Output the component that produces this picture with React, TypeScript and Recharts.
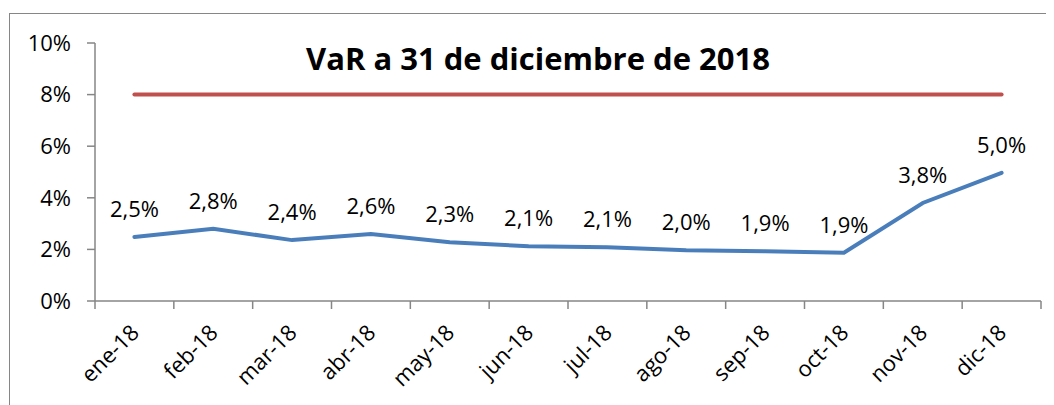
import React from 'react';
import { LineChart, Line, XAxis, YAxis, LabelList } from 'recharts';

const months = [
  'ene-18', 'feb-18', 'mar-18', 'abr-18', 'may-18', 'jun-18',
  'jul-18', 'ago-18', 'sep-18', 'oct-18', 'nov-18', 'dic-18',
];
const varValues = [2.48, 2.8, 2.36, 2.6, 2.28, 2.12, 2.08, 1.97, 1.93, 1.87, 3.8, 4.97];
const limitValues = [8, 8, 8, 8, 8, 8, 8, 8, 8, 8, 8, 8];
const yTicks = [0, 2, 4, 6, 8, 10];

const data = months.map((month, i) => ({
  month,
  var: varValues[i],
  limite: limitValues[i],
}));

const FONT = '"Open Sans", sans-serif';
const AXIS = '#868686';

function MonthTick(props: any) {
  const { x, y, payload, index } = props;
  const half = payload?.offset ?? 0;
  const tx = x + 6;
  const ty = y + 33;
  return (
    <g>
      <line x1={x - half} y1={y} x2={x - half} y2={y + 8} stroke={AXIS} strokeWidth={1.5} />
      {index === months.length - 1 && (
        <line x1={x + half} y1={y} x2={x + half} y2={y + 8} stroke={AXIS} strokeWidth={1.5} />
      )}
      <text
        x={tx}
        y={ty}
        textAnchor="end"
        transform={`rotate(-45 ${tx} ${ty})`}
        fontSize={22}
        fontFamily={FONT}
        fill="#000"
      >
        {payload.value}
      </text>
    </g>
  );
}

const pct = (v: number) => `${v.toFixed(1).replace('.', ',')}%`;

export default function App() {
  return (
    <div style={{ position: 'relative', width: 1046, height: 397, fontFamily: FONT }}>
      <div
        style={{
          position: 'absolute',
          left: 1,
          top: 5,
          right: -10,
          bottom: -20,
          borderTop: `1px solid ${AXIS}`,
          borderLeft: `1px solid ${AXIS}`,
        }}
      />
      <div
        style={{
          position: 'absolute',
          left: 230,
          top: 35,
          width: 600,
          textAlign: 'center',
          fontSize: 31,
          lineHeight: 1,
          fontWeight: 700,
          color: '#000',
        }}
      >
        VaR a 31 de diciembre de 2018
      </div>
      <LineChart
        width={1046}
        height={397}
        data={data}
        margin={{ top: 35, right: 13, left: 0, bottom: 0 }}
        style={{ position: 'absolute', left: 0, top: 0 }}
      >
        <XAxis
          dataKey="month"
          scale="band"
          height={104}
          interval={0}
          axisLine={{ stroke: AXIS, strokeWidth: 1.5 }}
          tickLine={false}
          tickSize={0}
          tickMargin={0}
          tick={<MonthTick />}
        />
        <YAxis
          width={87}
          domain={[0, 10]}
          ticks={yTicks}
          interval={0}
          tickFormatter={(v: number) => `${v}%`}
          axisLine={{ stroke: AXIS, strokeWidth: 1.5 }}
          tickLine={{ stroke: AXIS, strokeWidth: 1.5 }}
          tickSize={8}
          tickMargin={16}
          tick={{ fill: '#000', fontSize: 22, fontFamily: FONT }}
        />
        <Line
          dataKey="limite"
          stroke="#C0504D"
          strokeWidth={4}
          strokeLinecap="round"
          dot={false}
          activeDot={false}
          isAnimationActive={false}
        />
        <Line
          dataKey="var"
          stroke="#4A7EBB"
          strokeWidth={4}
          strokeLinecap="round"
          dot={false}
          activeDot={false}
          isAnimationActive={false}
        >
          <LabelList
            dataKey="var"
            position="top"
            offset={20}
            formatter={(v: any) => pct(Number(v))}
            style={{ fontSize: 22, fontFamily: FONT, fill: '#000' }}
          />
        </Line>
      </LineChart>
    </div>
  );
}
